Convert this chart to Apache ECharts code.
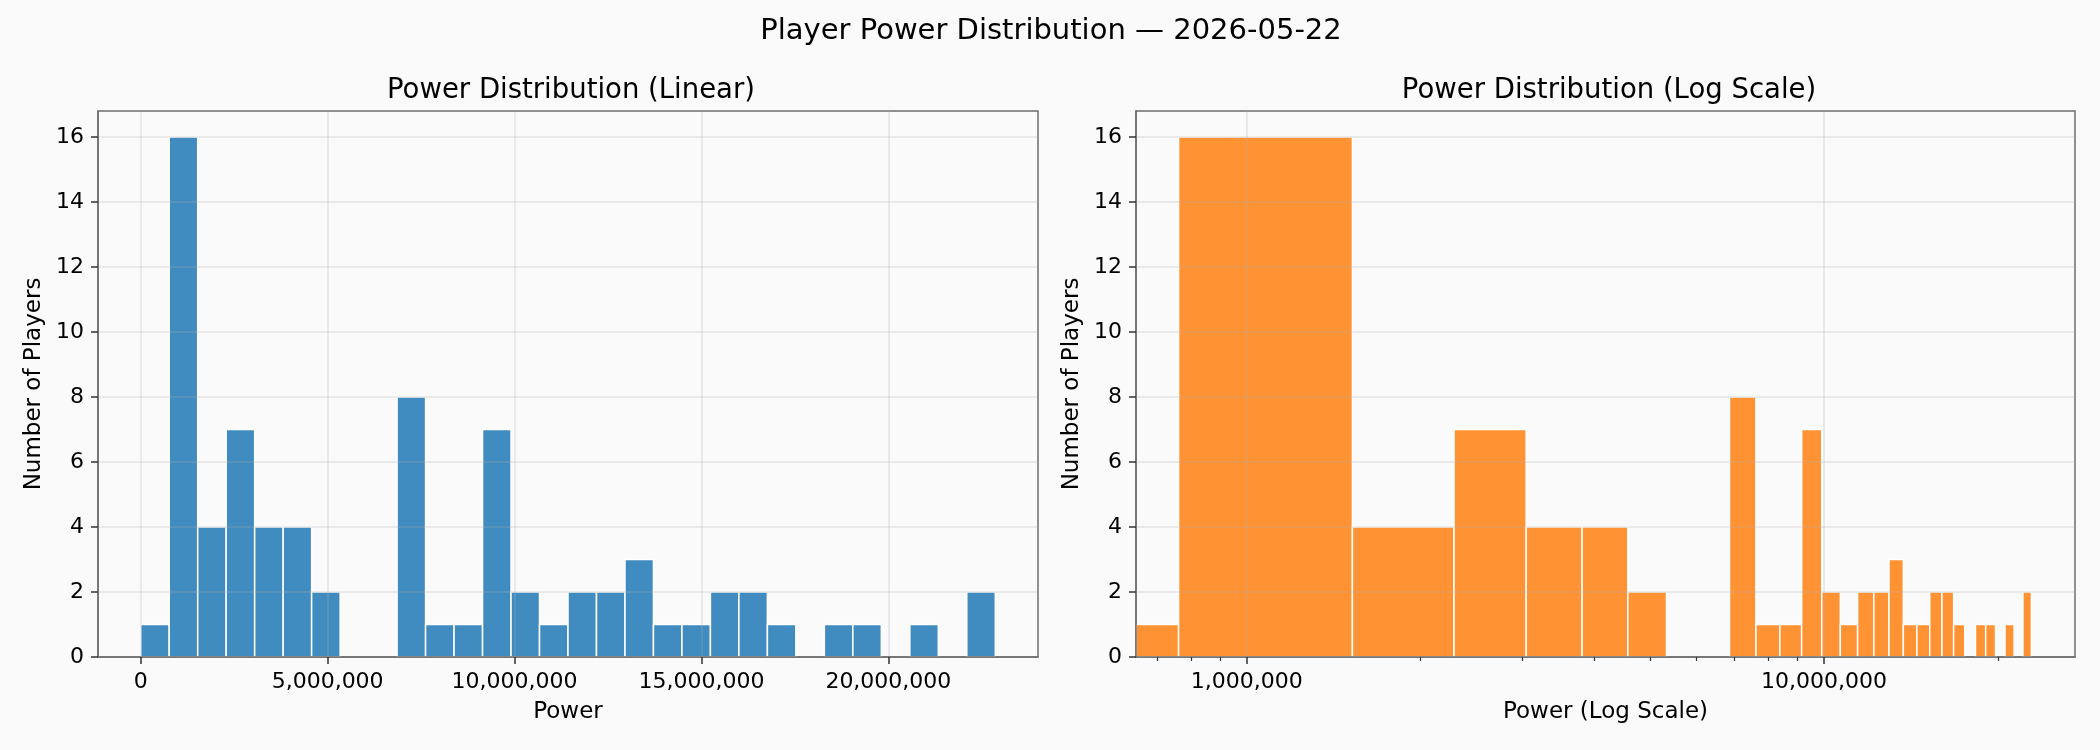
<!DOCTYPE html>
<html>
<head>
<meta charset="utf-8">
<script src="https://cdn.jsdelivr.net/npm/echarts@6/dist/echarts.min.js"></script>
<style>
  html, body { margin: 0; padding: 0; background: #fafafa; }
  #chart { width: 2100px; height: 750px; }
</style>
</head>
<body>
<div id="chart"></div>
<script>
// histogram bins (same 30 linear bins used in both panels)
var binEdges = [0, 762000, 1524000, 2286000, 3048000, 3810000, 4572000, 5334000, 6096000,
  6858000, 7620000, 8382000, 9144000, 9906000, 10668000, 11430000, 12192000, 12954000,
  13716000, 14478000, 15240000, 16002000, 16764000, 17526000, 18288000, 19050000,
  19812000, 20574000, 21336000, 22098000, 22860000];
var playerCounts = [1, 16, 4, 7, 4, 4, 2, 0, 0, 8, 1, 1, 7, 2, 1, 2, 2, 3, 1, 1, 2, 2, 1, 0, 1, 1, 0, 1, 0, 2];

// tick labels
var linearTicks = [0, 5000000, 10000000, 15000000, 20000000];
var logTicks = [1000000, 10000000];
var logMinorTicks = [700000, 800000, 900000, 2000000, 3000000, 4000000, 5000000,
  6000000, 7000000, 8000000, 9000000, 20000000];
var countTicks = [0, 2, 4, 6, 8, 10, 12, 14, 16];

var LIN_MIN = -1143000, LIN_MAX = 24003000;
var LOG_MIN = 643000, LOG_MAX = 27200000;
var Y_MAX = 16.8;

var FONT = 'DejaVu Sans';

function commas(v) {
  return String(Math.round(v)).replace(/\B(?=(\d{3})+(?!\d))/g, ',');
}

var bins = [];
for (var i = 0; i < playerCounts.length; i++) {
  bins.push([binEdges[i], binEdges[i + 1], playerCounts[i]]);
}

function makeRender(color, xMin) {
  return function (params, api) {
    var h = api.value(2);
    if (!h) return null;
    var x0 = Math.max(api.value(0), xMin);
    var x1 = api.value(1);
    var p0 = api.coord([x0, 0]);
    var p1 = api.coord([x1, h]);
    return {
      type: 'rect',
      shape: { x: p0[0], y: p1[1], width: p1[0] - p0[0], height: p0[1] - p1[1] },
      style: { fill: color, stroke: '#ffffff', lineWidth: 1.5 }
    };
  };
}

var chart = echarts.init(document.getElementById('chart'));

var gridLine = { show: true, lineStyle: { color: 'rgba(176,176,176,0.3)', width: 1.5 } };
var tickStyle = { show: true, inside: false, length: 7, lineStyle: { color: '#333', width: 1.5 } };
var lineStyle = { show: true, onZero: false, lineStyle: { color: '#6e6e6e', width: 1.5 } };

function yAxis(idx) {
  return {
    type: 'value', gridIndex: idx, min: 0, max: Y_MAX, z: 3,
    name: 'Number of Players', nameLocation: 'middle', nameGap: 52,
    nameTextStyle: { fontFamily: FONT, fontSize: 23, color: '#000' },
    axisLine: lineStyle,
    axisTick: Object.assign({ customValues: countTicks }, tickStyle),
    axisLabel: { customValues: countTicks, fontFamily: FONT, fontSize: 22, color: '#000', margin: 14 },
    splitLine: gridLine
  };
}

chart.setOption({
  backgroundColor: '#fafafa',
  animation: false,
  title: [
    { text: 'Player Power Distribution — 2026-05-22', left: 1046, top: 12, textAlign: 'center',
      textStyle: { fontFamily: FONT, fontSize: 29, fontWeight: 'normal', color: '#000' } },
    { text: 'Power Distribution (Linear)', left: 566, top: 72, textAlign: 'center',
      textStyle: { fontFamily: FONT, fontSize: 27.5, fontWeight: 'normal', color: '#000' } },
    { text: 'Power Distribution (Log Scale)', left: 1604, top: 72, textAlign: 'center',
      textStyle: { fontFamily: FONT, fontSize: 27.5, fontWeight: 'normal', color: '#000' } }
  ],
  grid: [
    { left: 98, top: 111, width: 940, height: 546, show: true, backgroundColor: '#fafafa',
      borderColor: '#6e6e6e', borderWidth: 1.5 },
    { left: 1136, top: 111, width: 939, height: 546, show: true, backgroundColor: '#fafafa',
      borderColor: '#6e6e6e', borderWidth: 1.5 }
  ],
  xAxis: [
    {
      type: 'value', gridIndex: 0, min: LIN_MIN, max: LIN_MAX, z: 3,
      name: 'Power', nameLocation: 'middle', nameGap: 44,
      nameTextStyle: { fontFamily: FONT, fontSize: 23, color: '#000' },
      axisLine: lineStyle,
      axisTick: Object.assign({ customValues: linearTicks }, tickStyle),
      axisLabel: { customValues: linearTicks, fontFamily: FONT, fontSize: 22, color: '#000', margin: 14,
        formatter: commas },
      splitLine: gridLine
    },
    {
      type: 'log', logBase: 10, gridIndex: 1, min: LOG_MIN, max: LOG_MAX, z: 3,
      name: 'Power (Log Scale)', nameLocation: 'middle', nameGap: 44,
      nameTextStyle: { fontFamily: FONT, fontSize: 23, color: '#000' },
      axisLine: lineStyle,
      axisTick: Object.assign({ customValues: logTicks }, tickStyle),
      axisLabel: { customValues: logTicks, fontFamily: FONT, fontSize: 22, color: '#000', margin: 14,
        formatter: commas },
      splitLine: gridLine
    },
    {
      type: 'log', logBase: 10, gridIndex: 1, min: LOG_MIN, max: LOG_MAX, position: 'bottom', z: 3,
      axisLine: { show: false },
      axisTick: { show: true, customValues: logMinorTicks, length: 4, lineStyle: { color: '#333', width: 1.2 } },
      axisLabel: { show: false },
      splitLine: { show: false }
    }
  ],
  yAxis: [yAxis(0), yAxis(1)],
  series: [
    { type: 'custom', name: 'Linear', xAxisIndex: 0, yAxisIndex: 0, clip: true, z: 2,
      renderItem: makeRender('rgba(31,119,180,0.85)', LIN_MIN), data: bins },
    { type: 'custom', name: 'Log', xAxisIndex: 1, yAxisIndex: 1, clip: true, z: 2,
      renderItem: makeRender('rgba(255,127,14,0.85)', LOG_MIN), data: bins }
  ]
});
</script>
</body>
</html>
